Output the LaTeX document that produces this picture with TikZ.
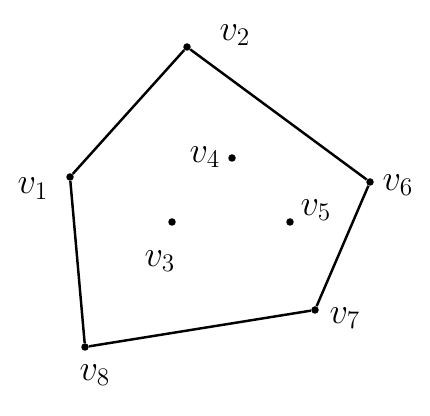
\documentclass[tikz,border=0pt]{standalone}
\usetikzlibrary{positioning}

\begin{document}
\begin{tikzpicture}[
    pt/.style={circle, fill, inner sep=0pt, minimum size=0.15cm},
    lb/.style={font=\huge, inner sep=1pt},
    e/.style={line width=1.4pt},
]
\useasboundingbox (0,0) rectangle (8.6,8.32);

% Outer vertices
\node[pt] (v1) at (1.40, 4.78) {};
\node[pt] (v2) at (3.74, 7.38) {};
\node[pt] (v6) at (7.40, 4.68) {};
\node[pt] (v7) at (6.30, 2.12) {};
\node[pt] (v8) at (1.70, 1.38) {};

% Inner vertices
\node[pt] (v3) at (3.44, 3.88) {};
\node[pt] (v4) at (4.64, 5.16) {};
\node[pt] (v5) at (5.80, 3.88) {};

% Labels
\node[lb] (l1) at (0.66, 4.55) {$v_1$};
\node[lb] (l2) at (4.70, 7.62) {$v_2$};
\node[lb] (l3) at (3.20, 3.10) {$v_3$};
\node[lb] (l4) at (4.10, 5.18) {$v_4$};
\node[lb] (l5) at (6.32, 4.12) {$v_5$};
\node[lb] (l6) at (7.96, 4.62) {$v_6$};
\node[lb] (l7) at (6.90, 1.96) {$v_7$};
\node[lb] (l8) at (1.90, 0.82) {$v_8$};

% Boundary
\draw[e] (v1) -- (v2);
\draw[e] (v2) -- (v6);
\draw[e] (v6) -- (v7);
\draw[e] (v7) -- (v8);
\draw[e] (v8) -- (v1);
\end{tikzpicture}
\end{document}
